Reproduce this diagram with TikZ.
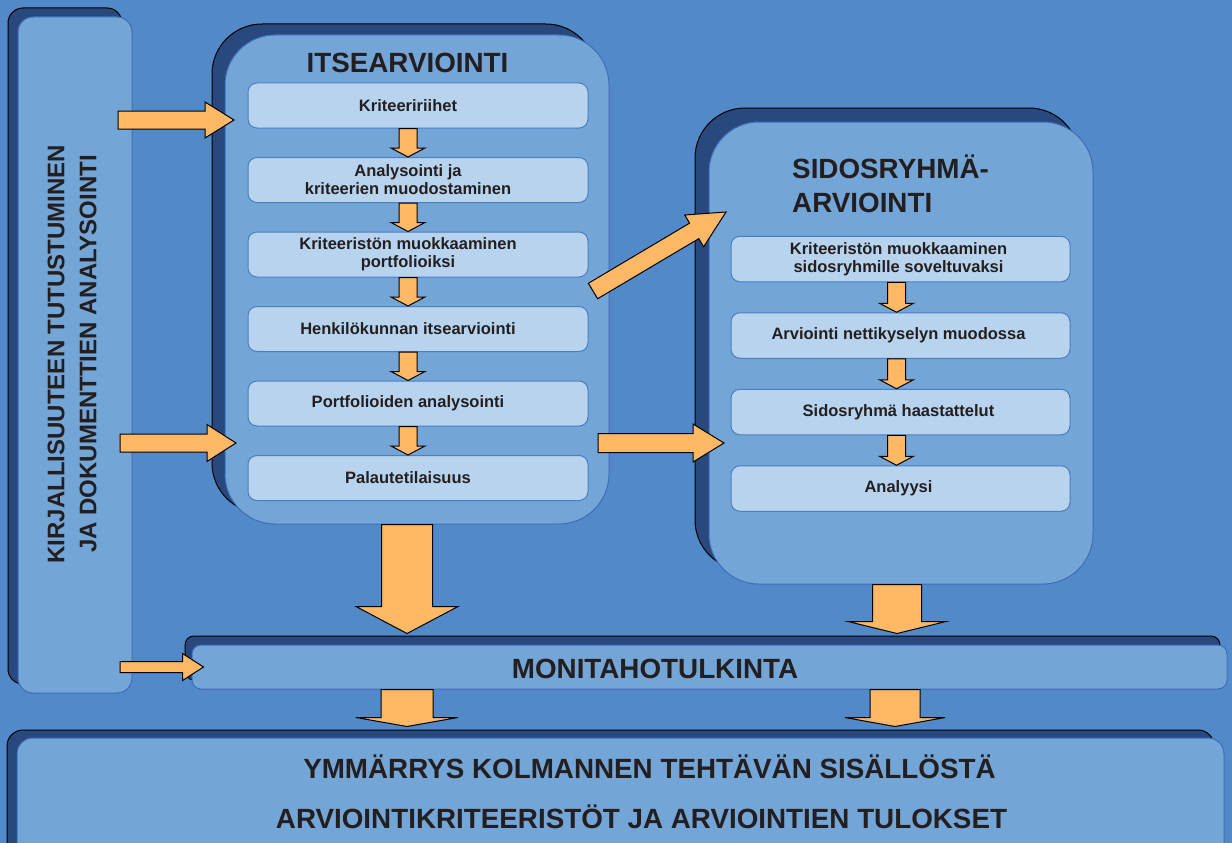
\documentclass[tikz,border=0pt]{standalone}
\usepackage{fontspec}
\setmainfont{Liberation Sans}
\usetikzlibrary{calc,positioning,shadows}

\definecolor{bgblue}{RGB}{81,137,201}
\definecolor{panelblue}{RGB}{116,165,215}
\definecolor{panelline}{RGB}{62,110,182}
\definecolor{shadeblue}{RGB}{40,72,126}
\definecolor{boxblue}{RGB}{184,211,238}
\definecolor{boxline}{RGB}{74,125,194}
\definecolor{arroworange}{RGB}{255,184,102}
\definecolor{inkdark}{RGB}{35,31,32}

\tikzset{
  panel/.style={fill=panelblue, draw=panelline, line width=1pt, inner sep=0pt, rounded corners=#1},
  lift/.style 2 args={general shadow={fill=shadeblue, draw=black, line width=1pt, shadow xshift=-#1pt, shadow yshift=#2pt}},
  boxshape/.style={fill=boxblue, draw=boxline, line width=1pt, rounded corners=9pt, inner sep=0pt, minimum width=340pt, minimum height=45pt},
  boxtext/.style={font=\fontsize{16.5}{18}\selectfont\bfseries, text=inkdark, align=center, inner sep=0pt},
  ibox/.style={boxshape, label={[boxtext,xshift=-10pt]center:#1}},
  sbox/.style={boxshape, minimum width=339pt, minimum height=45.5pt, label={[boxtext,xshift=-2pt]center:#1}},
  title/.style={font=\fontsize{27.8}{34}\selectfont\bfseries, text=inkdark, inner sep=0pt},
  blockarrow/.style={fill=arroworange, draw=black, line width=1pt, line join=miter}
}

% fat arrow: from, to, half shaft, half head, head length
\newcommand{\fatarrow}[5]{%
  \path (#1) coordinate (fa-s) (#2) coordinate (fa-t);
  \path ($(fa-t)!#5pt!(fa-s)$) coordinate (fa-h);
  \draw[blockarrow] ($(fa-s)!#3pt!90:(fa-t)$) -- ($(fa-h)!#3pt!90:(fa-t)$) -- ($(fa-h)!#4pt!90:(fa-t)$) -- (fa-t)
    -- ($(fa-h)!#4pt!-90:(fa-t)$) -- ($(fa-h)!#3pt!-90:(fa-t)$) -- ($(fa-s)!#3pt!-90:(fa-t)$) -- cycle;
}

\begin{document}
\begin{tikzpicture}[x=1pt,y=-1pt]
\useasboundingbox (0,0) rectangle (1232,843);
\clip (0,0) rectangle (1232,843);
\fill[bgblue] (0,0) rectangle (1232,843);

% panels
\node[panel=15pt, lift={10}{9}, minimum width=114pt, minimum height=676pt] (lit) at (75,355) {};
\node[panel=50pt, lift={13}{11}, minimum width=384pt, minimum height=489pt] (its) at (417,279.5) {};
\node[panel=50pt, lift={14}{14}, minimum width=384pt, minimum height=462pt] (sid) at (901,353) {};
\node[panel=9pt, lift={7}{9}, minimum width=1035pt, minimum height=44pt] (moni) at (709.5,667) {};
\node[panel=16pt, lift={10}{8}, minimum width=1207pt, minimum height=132pt] (sum) at (620.5,804) {};

% titles
\node[title, rotate=90, align=center, font=\fontsize{24}{32}\selectfont\bfseries] (littitle) at (72,354) {KIRJALLISUUTEEN TUTUSTUMINEN\\JA DOKUMENTTIEN ANALYSOINTI};
\node[title, anchor=base] (itstitle) at (407.5,73) {ITSEARVIOINTI};
\node[title, anchor=base west, align=left] (sidtitle) at (792,212) {SIDOSRYHMÄ-\\ARVIOINTI};
\node[title, anchor=base] (monititle) at (655,678) {MONITAHOTULKINTA};
\node[title, anchor=base] (sumtitle1) at (649.5,778) {YMMÄRRYS KOLMANNEN TEHTÄVÄN SISÄLLÖSTÄ};
\node[title, anchor=base] (sumtitle2) at (641.5,828) {ARVIOINTIKRITEERISTÖT JA ARVIOINTIEN TULOKSET};

% itsearviointi steps
\node[ibox={Kriteeririihet}] (k1) at (418,105.5) {};
\node[ibox={Analysointi ja\\kriteerien muodostaminen}, below=28.5pt of k1] (k2) {};
\node[ibox={Kriteeristön muokkaaminen\\portfolioiksi}, below=28.5pt of k2] (k3) {};
\node[ibox={Henkilökunnan itsearviointi}, below=28.5pt of k3] (k4) {};
\node[ibox={Portfolioiden analysointi}, below=28.5pt of k4] (k5) {};
\node[ibox={Palautetilaisuus}, below=28.5pt of k5] (k6) {};

% sidosryhmaarviointi steps
\node[sbox={Kriteeristön muokkaaminen\\sidosryhmille soveltuvaksi}] (s1) at (900.5,259) {};
\node[sbox={Arviointi nettikyselyn muodossa}, below=30pt of s1] (s2) {};
\node[sbox={Sidosryhmä haastattelut}, below=30pt of s2] (s3) {};
\node[sbox={Analyysi}, below=30pt of s3] (s4) {};

% small arrows
\foreach \a/\b in {k1/k2,k2/k3,k3/k4,k4/k5,k5/k6}
  \fatarrow{$(\a.south)+(-10,0)$}{$(\b.north)+(-10,0)$}{9}{17}{9};
\foreach \a/\b in {s1/s2,s2/s3,s3/s4}
  \fatarrow{$(\a.south)+(-4,0)$}{$(\b.north)+(-4,0)$}{9}{17}{9};

% block arrows
\coordinate (litout1) at (118,120);
\coordinate (itsin1) at (234,120);
\coordinate (litout2) at (120,443);
\coordinate (itsin2) at (236,443);
\coordinate (itsout1) at (593,291);
\coordinate (sidin1) at (726,212);
\coordinate (itsout2) at (598,443);
\coordinate (sidin2) at (724,443);
\coordinate (litout3) at (120,667);

\fatarrow{litout1}{itsin1}{9}{18}{29}
\fatarrow{litout2}{itsin2}{9}{18.5}{29}
\fatarrow{itsout1}{sidin1}{9}{18.5}{37}
\fatarrow{itsout2}{sidin2}{9.5}{19}{31}
\fatarrow{litout3}{$(moni.west)+(12,0)$}{5.5}{13.5}{21}
\fatarrow{$(its.south)+(-10,0)$}{$(its.south)+(-10,109)$}{25.5}{51}{27}
\fatarrow{$(sid.south)+(-4,0)$}{$(sid.south)+(-4,49)$}{24.5}{49}{12}
\fatarrow{$(its.south |- moni.south)+(-10,0)$}{$(its.south |- sum.north)+(-10,-11)$}{26}{51}{9}
\fatarrow{$(sid.south |- moni.south)+(-6,0)$}{$(sid.south |- sum.north)+(-6,-11)$}{25}{50}{9}

\end{tikzpicture}
\end{document}
